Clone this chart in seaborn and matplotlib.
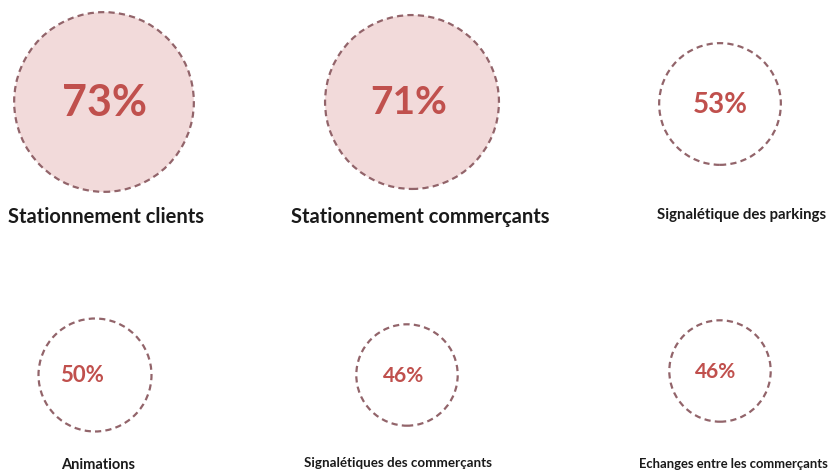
import matplotlib
matplotlib.use("Agg")
import matplotlib.pyplot as plt
import pandas as pd
import seaborn as sns

# Survey results: share of respondents citing each topic
categories = [
    "Stationnement clients",
    "Stationnement commerçants",
    "Signalétique des parkings",
    "Animations",
    "Signalétiques des commerçants",
    "Echanges entre les commerçants",
]
values = [73, 71, 53, 50, 46, 46]
highlighted = [True, True, False, False, False, False]

# Layout (pixel grid of the figure)
W, H, DPI = 832, 477, 100
circle_xy = [(104, 103), (412, 103), (720, 105), (95, 376), (407, 376), (720, 372)]
label_xy = [(106, 217), (420, 217), (742, 215), (98, 465), (398, 463), (733, 464)]
pct_dx = [0, -3, 0, -13, -3, -4]
pct_size = [31, 28, 20, 16, 15, 15]
label_size = [14.5, 14.5, 10.8, 10.5, 9.6, 9.4]

PINK = "#F2DADA"
EDGE = "#92646A"
RED = "#C0504D"

sns.set_theme(style="white")
plt.rcParams["font.family"] = ["Lato", "DejaVu Sans"]

df = pd.DataFrame({
    "category": categories,
    "value": values,
    "highlighted": highlighted,
    "cx": [p[0] for p in circle_xy],
    "cy": [p[1] for p in circle_xy],
})
# bubble radius (px) grows with the value; marker size is in points^2
df["radius"] = 1.45 * df["value"] - 16
df["s"] = (2 * df["radius"] * 72 / DPI) ** 2

fig = plt.figure(figsize=(W / DPI, H / DPI), dpi=DPI)
ax = fig.add_axes([0, 0, 1, 1])

sns.scatterplot(
    data=df, x="cx", y="cy", hue="highlighted",
    palette={True: PINK, False: "white"},
    s=df["s"].to_numpy(), edgecolor=EDGE, linewidth=1.6,
    linestyle=(0, (2.8, 1.9)), legend=False, ax=ax, zorder=2,
)
ax.set_xlim(0, W)
ax.set_ylim(H, 0)
ax.set_axis_off()

for i, row in df.iterrows():
    ax.text(row["cx"] + pct_dx[i], row["cy"], f"{row['value']}%",
            ha="center", va="center", color=RED, fontsize=pct_size[i],
            fontweight="bold", zorder=3)
    lx, ly = label_xy[i]
    ax.text(lx, ly, row["category"], ha="center", va="center",
            color="#1a1a1a", fontsize=label_size[i], fontweight="bold",
            zorder=3)

fig.savefig("out.png", dpi=DPI, facecolor="white")
